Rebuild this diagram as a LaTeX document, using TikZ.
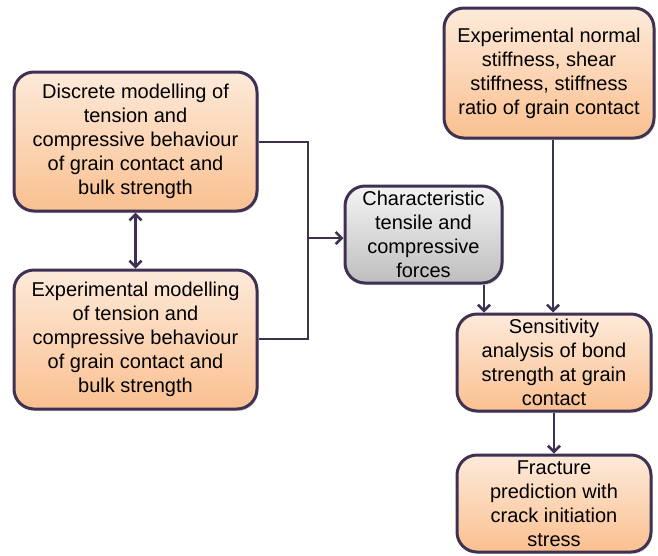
\documentclass[tikz,border=0pt]{standalone}
\usepackage{fontspec}
\setmainfont{Liberation Sans}
\usetikzlibrary{arrows.meta,shadows}
\definecolor{edge}{HTML}{3F3151}
\definecolor{peachtop}{HTML}{FDEADA}
\definecolor{peachbot}{HTML}{FAC090}
\definecolor{greytop}{HTML}{F4F4F4}
\definecolor{greybot}{HTML}{BEBEBE}
\tikzset{
  x=1pt, y=-1pt,
  box/.style={draw=edge, line width=3pt, rounded corners=20pt, align=center,
    font=\fontsize{20}{24}\selectfont, inner sep=1pt,
    execute at begin node={\rule{0pt}{21pt}},
    drop shadow={shadow xshift=1.5pt, shadow yshift=-2pt, opacity=0.25}},
  peach/.style={box, top color=peachtop, bottom color=peachbot},
  grey/.style={box, top color=greytop, bottom color=greybot},
  link/.style={draw=edge, line width=2.8pt, -{Straight Barb[length=6pt,width=12pt,line width=2.6pt]}},
  plain/.style={draw=edge, line width=2.8pt}
}
\begin{document}
\begin{tikzpicture}
\useasboundingbox (0,0) rectangle (658,555);
% boxes
\node[peach, minimum width=243pt, minimum height=139pt] (disc) at (135.5,141.5)
  {Discrete modelling of\\tension and\\compressive behaviour\\of grain contact and\\bulk strength};
\node[peach, minimum width=243pt, minimum height=139pt] (expm) at (135.5,339.5)
  {Experimental modelling\\of tension and\\compressive behaviour\\of grain contact and\\bulk strength};
\node[grey, minimum width=157pt, minimum height=97pt] (char) at (423.5,234.5)
  {Characteristic\\tensile and\\compressive\\forces};
\node[peach, minimum width=210pt, minimum height=130pt] (stiff) at (549,73)
  {Experimental normal\\stiffness, shear\\stiffness, stiffness\\ratio of grain contact};
\node[peach, minimum width=194pt, minimum height=97pt] (sens) at (554,362.5)
  {Sensitivity\\analysis of bond\\strength at grain\\contact};
\node[peach, minimum width=194pt, minimum height=97pt] (frac) at (554,503.5)
  {Fracture\\prediction with\\crack initiation\\stress};
% junction feeding the grey box
\coordinate (join) at (308,238);
% connectors
\draw[plain] (disc.east |- 0,142) -| (join);
\draw[plain] (expm.east |- 0,339) -| (join);
\draw[link] (join) -- (char.west |- join);
\draw[draw=edge, line width=2.8pt, {Straight Barb[length=6pt,width=12pt,line width=2.6pt]}-{Straight Barb[length=6pt,width=12pt,line width=2.6pt]}] (disc.south) -- (expm.north);
\draw[link] (char.south -| 484,0) -- (sens.north -| 484,0);
\draw[link] (stiff.south -| 553,0) -- (sens.north -| 553,0);
\draw[link] (sens.south) -- (frac.north);
\end{tikzpicture}
\end{document}
